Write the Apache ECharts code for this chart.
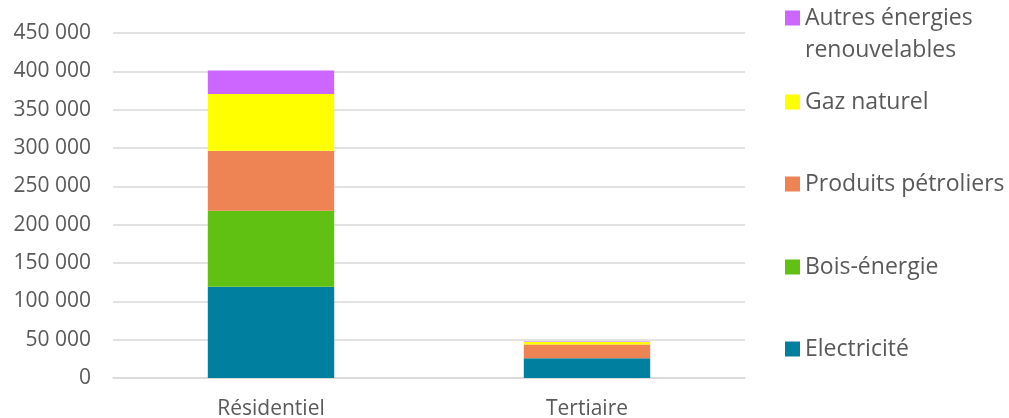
<!DOCTYPE html>
<html>
<head>
<meta charset="utf-8">
<script src="https://cdn.jsdelivr.net/npm/echarts@6/dist/echarts.min.js"></script>
<style>
  html, body { margin: 0; padding: 0; background: #fff; }
  #chart { width: 1009px; height: 418px; }
</style>
</head>
<body>
<div id="chart"></div>
<script>
const categories = ['Résidentiel', 'Tertiaire'];
const seriesNames = ['Electricité', 'Bois-énergie', 'Produits pétroliers', 'Gaz naturel', 'Autres énergies renouvelables'];
const electricite = [119000, 25800];
const boisEnergie = [99000, 0];
const produitsPetroliers = [78500, 17800];
const gazNaturel = [74000, 3500];
const autresRenouvelables = [30500, 400];
const yTicks = { min: 0, max: 450000, interval: 50000 };

const values = [electricite, boisEnergie, produitsPetroliers, gazNaturel, autresRenouvelables];
const colors = ['#007F9F', '#61C112', '#EE8354', '#FFFF00', '#CC66FF'];
// legend box tops, top to bottom (Autres first, it is three lines tall)
const legendTops = [-35, 81, 163, 246, 328];

const font = '"Open Sans", sans-serif';
const textColor = '#595959';

const chart = echarts.init(document.getElementById('chart'));

const series = seriesNames.map((name, i) => ({
  name: name,
  type: 'bar',
  stack: 'total',
  data: values[i],
  barWidth: '40%',
  itemStyle: { color: colors[i] },
  animation: false
}));

// one legend per item so the spacing matches the original
const legends = seriesNames.slice().reverse().map((name, i) => ({
  data: [name],
  left: 780,
  top: legendTops[i],
  itemWidth: 15,
  itemHeight: 15,
  icon: 'rect',
  selectedMode: false,
  // empty first line keeps the icon next to "Autres énergies"
  formatter: n => n === 'Autres énergies renouvelables' ? '\nAutres énergies\nrenouvelables' : n,
  textStyle: {
    color: textColor,
    fontFamily: font,
    fontSize: 23,
    lineHeight: 32
  }
}));

chart.setOption({
  backgroundColor: '#fff',
  grid: { left: 113, right: 264, top: 33, bottom: 40, outerBoundsMode: 'none' },
  legend: legends,
  xAxis: {
    type: 'category',
    data: categories,
    axisLine: { lineStyle: { color: '#d9d9d9', width: 1.5 } },
    axisTick: { show: false },
    axisLabel: { color: textColor, fontFamily: font, fontSize: 21, margin: 21 }
  },
  yAxis: {
    type: 'value',
    min: yTicks.min,
    max: yTicks.max,
    interval: yTicks.interval,
    axisLine: { show: false },
    axisTick: { show: false },
    splitLine: { lineStyle: { color: '#d9d9d9', width: 1.5 } },
    axisLabel: {
      color: textColor,
      fontFamily: font,
      fontSize: 21,
      margin: 22,
      formatter: v => v.toLocaleString('fr-FR').replace(/\s/g, ' ')
    }
  },
  series: series
});
</script>
</body>
</html>
